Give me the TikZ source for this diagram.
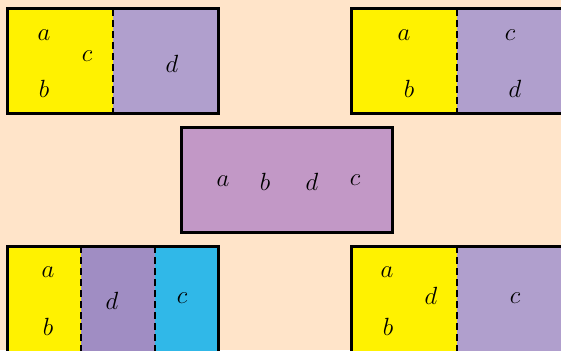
\documentclass[tikz,border=0pt]{standalone}
\usepackage{tikz}
\definecolor{bg}{HTML}{FFE4C9}
\definecolor{yel}{HTML}{FFF200}
\definecolor{lav}{HTML}{B09FCD}
\definecolor{mauve}{HTML}{C298C6}
\definecolor{lavd}{HTML}{A08DC3}
\definecolor{cya}{HTML}{30B8E8}
\begin{document}
\begin{tikzpicture}[x=1pt,y=-1pt,
  lab/.style={inner sep=0pt,font=\fontsize{23}{27}\selectfont},
  frame/.style={draw=black,line width=3pt},
  divider/.style={draw=black,line width=2pt,dash pattern=on 7pt off 4pt}]
\useasboundingbox (0,0) rectangle (561,350);
\clip (0,0) rectangle (561,350);
\fill[bg] (0,0) rectangle (561,350);
% box 1
\fill[yel] (7,9) rectangle (113,113);
\fill[lav] (113,9) rectangle (218,113);
\draw[divider] (113,9) -- (113,113);
\draw[frame] (7,9) rectangle (218,113);
\node[lab] (a1) at (44,35) {$a$};
\node[lab] (c1) at (87,56) {$c$};
\node[lab] (b1) at (44,89) {$b$};
\node[lab] (d1) at (172,64) {$d$};
% box 2
\fill[yel] (351,9) rectangle (457,113);
\fill[lav] (457,9) rectangle (562,113);
\draw[divider] (457,9) -- (457,113);
\draw[frame] (351,9) rectangle (562,113);
\node[lab] (a2) at (404,35) {$a$};
\node[lab] (b2) at (409,89) {$b$};
\node[lab] (c2) at (510,35) {$c$};
\node[lab] (d2) at (515,89) {$d$};
% box 3
\fill[mauve] (181,127) rectangle (392,232);
\draw[frame] (181,127) rectangle (392,232);
\node[lab] (a3) at (223,181) {$a$};
\node[lab] (b3) at (265,182) {$b$};
\node[lab] (d3) at (312,182) {$d$};
\node[lab] (c3) at (355,180) {$c$};
% box 4
\fill[yel] (7,246) rectangle (81,352);
\fill[lavd] (81,246) rectangle (155,352);
\fill[cya] (155,246) rectangle (218,352);
\draw[divider] (81,246) -- (81,352);
\draw[divider] (155,246) -- (155,352);
\draw[frame] (7,246) rectangle (218,352);
\node[lab] (a4) at (48,272) {$a$};
\node[lab] (b4) at (48,327) {$b$};
\node[lab] (d4) at (112,301) {$d$};
\node[lab] (c4) at (182,298) {$c$};
% box 5
\fill[yel] (351,246) rectangle (457,352);
\fill[lav] (457,246) rectangle (562,352);
\draw[divider] (457,246) -- (457,352);
\draw[frame] (351,246) rectangle (562,352);
\node[lab] (a5) at (387,272) {$a$};
\node[lab] (b5) at (388,327) {$b$};
\node[lab] (d5) at (431,296) {$d$};
\node[lab] (c5) at (515,298) {$c$};
\end{tikzpicture}
\end{document}
